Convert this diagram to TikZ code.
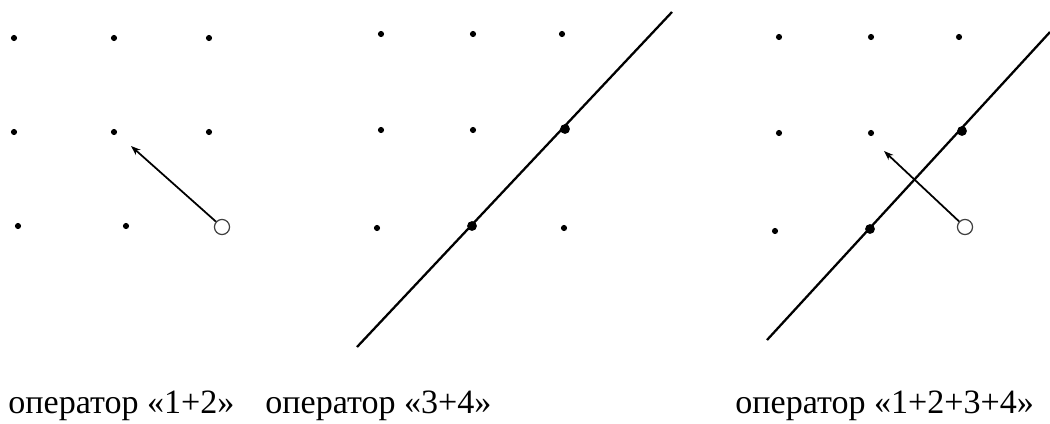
\documentclass[tikz,border=0pt]{standalone}
\usepackage{fontspec}
\setmainfont{Liberation Serif}
\usetikzlibrary{arrows.meta}

\begin{document}
\begin{tikzpicture}[x=0.02cm,y=-0.02cm,
  dot/.style={circle,fill=black,inner sep=0pt,minimum size=3.5pt},
  bigdot/.style={circle,fill=black,inner sep=0pt,minimum size=5.6pt},
  hole/.style={circle,draw=black!75,line width=0.7pt,fill=white,inner sep=0pt,minimum size=8.6pt},
  move/.style={line width=1pt,-{Stealth[length=5.5pt,width=4pt]}},
  cut/.style={line width=1.3pt},
  lab/.style={anchor=base west,inner sep=0pt,font=\fontsize{19.4}{23}\selectfont}]
\useasboundingbox (0,0) rectangle (1050,423);
% operator 1+2
\foreach \n/\x/\y in {a1/14/38,a2/114/38,a3/209/38,a4/14/132,a5/114/132,a6/209/132,a7/18/226,a8/126/226}
  \node[dot] (\n) at (\x,\y) {};
\node[hole] (a9) at (222,227) {};
\coordinate (a0) at (131,146);
\draw[move] (a9)--(a0);
% operator 3+4
\foreach \n/\x/\y in {b1/381/34,b2/473/34,b3/562/34,b4/381/130,b5/473/130,b7/377/228,b9/564/228}
  \node[dot] (\n) at (\x,\y) {};
\coordinate (bs) at (357,347);
\coordinate (be) at (672,12);
\draw[cut] (bs)--(be);
\node[bigdot] (b6) at (565,129) {};
\node[bigdot] (b8) at (472,226) {};
% operator 1+2+3+4
\foreach \n/\x/\y in {c1/779/37,c2/871/37,c3/959/37,c4/779/133,c5/871/133,c7/775/231}
  \node[dot] (\n) at (\x,\y) {};
\node[hole] (c9) at (965,227) {};
\coordinate (c0) at (884,151);
\draw[move] (c9)--(c0);
\coordinate (cs) at (767,340);
\coordinate (ce) at (1050,32);
\draw[cut] (cs)--(ce);
\node[bigdot] (c6) at (962,131) {};
\node[bigdot] (c8) at (870,229) {};
% captions
\node[lab] (l1) at (8,413) {оператор «1+2»};
\node[lab] (l2) at (265,413) {оператор «3+4»};
\node[lab] (l3) at (735,413) {оператор «1+2+3+4»};
\end{tikzpicture}
\end{document}
